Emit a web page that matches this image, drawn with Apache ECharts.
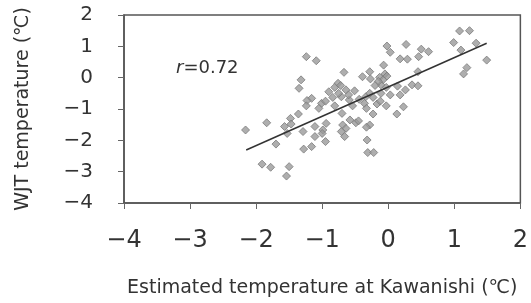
<!DOCTYPE html>
<html><head><meta charset="utf-8">
<script src="https://cdn.jsdelivr.net/npm/echarts@6/dist/echarts.min.js"></script>
<style>html,body{margin:0;padding:0;background:#fff}#c{width:531px;height:303px}</style>
</head><body><div id="c"></div>
<script>
const xs = [-2.16,-1.84,-1.70,-1.91,-1.78,-1.50,-1.54,-1.24,-1.09,-1.32,-1.35,-1.16,-1.23,-1.24,-1.01,-1.05,-1.48,-1.36,-1.57,-1.47,-1.53,-1.29,-1.11,-1.28,-1.16,-0.95,-0.99,-1.11,-0.94,
 1.08,1.23,0.99,1.33,1.10,1.49,1.19,1.14,-0.02,0.03,0.27,0.50,0.61,0.46,0.18,0.29,-0.07,0.45,-0.67,-0.39,-0.28,-0.27,-0.13,-0.08,-0.11,-0.03,0.14,0.36,0.45,0.26,0.18,0.03,-0.11,-0.76,-0.81,-0.64,-0.51,-0.84,-0.71,-0.59,-0.44,-0.34,-0.23,-0.81,-0.54,-0.36,-0.33,-0.03,-0.17,0.23,0.13,-0.70,-0.23,-0.58,-0.49,-0.69,-0.28,-0.33,-0.64,-0.71,-1.00,-0.66,-0.32,-0.31,-0.22,
 -0.15,-0.05,-0.20,-0.90,-0.75,-0.95,-0.28,-0.12,-0.45,-0.72,-0.02,-0.60];
const ys = [-1.67,-1.44,-2.12,-2.76,-2.86,-2.84,-3.14,0.67,0.54,-0.07,-0.34,-0.66,-0.73,-0.90,-0.82,-0.98,-1.30,-1.16,-1.56,-1.48,-1.78,-1.72,-1.88,-2.28,-2.20,-2.04,-1.67,-1.56,-1.46,
 1.49,1.50,1.12,1.10,0.88,0.56,0.32,0.12,1.01,0.81,1.06,0.91,0.83,0.67,0.60,0.59,0.40,0.19,0.17,0.03,0.19,-0.04,0.01,-0.07,-0.23,-0.31,-0.27,-0.23,-0.26,-0.39,-0.55,-0.55,-0.50,-0.18,-0.31,-0.39,-0.42,-0.63,-0.61,-0.71,-0.69,-0.61,-0.63,-0.90,-0.90,-0.82,-0.98,-0.90,-0.84,-0.93,-1.16,-1.14,-1.16,-1.35,-1.44,-1.51,-1.51,-1.58,-1.62,-1.72,-1.78,-1.88,-1.99,-2.39,-2.39,
 -0.12,0.12,-0.25,-0.45,-0.50,-0.75,-0.50,-0.75,-1.38,-0.25,0.05,-0.55];
const fitX = [-2.15, 1.49];
const fitY = [-2.31, 1.10];
const xTicks = [-4,-3,-2,-1,0,1,2];
const yTicks = [-4,-3,-2,-1,0,1,2];
const rLabel = '0.72';

const font = '"DejaVu Sans", sans-serif';
const minus = v => String(v).replace('-', '\u2212');
const chart = echarts.init(document.getElementById('c'), null, {renderer:'canvas'});
chart.setOption({
  animation:false,
  backgroundColor:'#fff',
  grid:{left:124,right:9,top:15,bottom:100,show:true,borderColor:'#555',borderWidth:1.5},
  xAxis:{type:'value',min:xTicks[0],max:xTicks[xTicks.length-1],interval:1,
    name:'Estimated temperature at Kawanishi (℃)',nameLocation:'middle',nameGap:76,
    nameTextStyle:{fontFamily:font,fontSize:19,color:'#333'},
    axisLine:{onZero:false,lineStyle:{color:'#555',width:1.5}},
    axisTick:{inside:false,length:6,lineStyle:{color:'#666'}},
    axisLabel:{margin:26,fontFamily:font,fontSize:24,color:'#333',formatter:minus},
    splitLine:{show:false}},
  yAxis:{type:'value',min:yTicks[0],max:yTicks[yTicks.length-1],interval:1,
    name:'WJT temperature (℃)',nameLocation:'middle',nameGap:91,
    nameTextStyle:{fontFamily:font,fontSize:19,color:'#333'},
    axisLine:{onZero:false,lineStyle:{color:'#555',width:1.5}},
    axisTick:{length:6,lineStyle:{color:'#666'}},
    axisLabel:{margin:31,fontFamily:font,fontSize:20,color:'#333',formatter:minus},
    splitLine:{show:false}},
  series:[
    {type:'scatter',data:xs.map((x,i)=>[x,ys[i]]),symbol:'diamond',symbolSize:8,
     itemStyle:{color:'#9a9a9a',borderColor:'#7a7a7a',borderWidth:1}},
    {type:'line',data:fitX.map((x,i)=>[x,fitY[i]]),symbol:'none',
     lineStyle:{color:'#333',width:1.5}}
  ],
  graphic:[{type:'text',left:176,top:59,
    style:{rich:{i:{fontStyle:'italic',fontFamily:font,fontSize:18,fill:'#333'},n:{fontFamily:font,fontSize:18,fill:'#333'}},
      text:'{i|r}{n|=' + rLabel + '}'}}]
});
</script></body></html>
